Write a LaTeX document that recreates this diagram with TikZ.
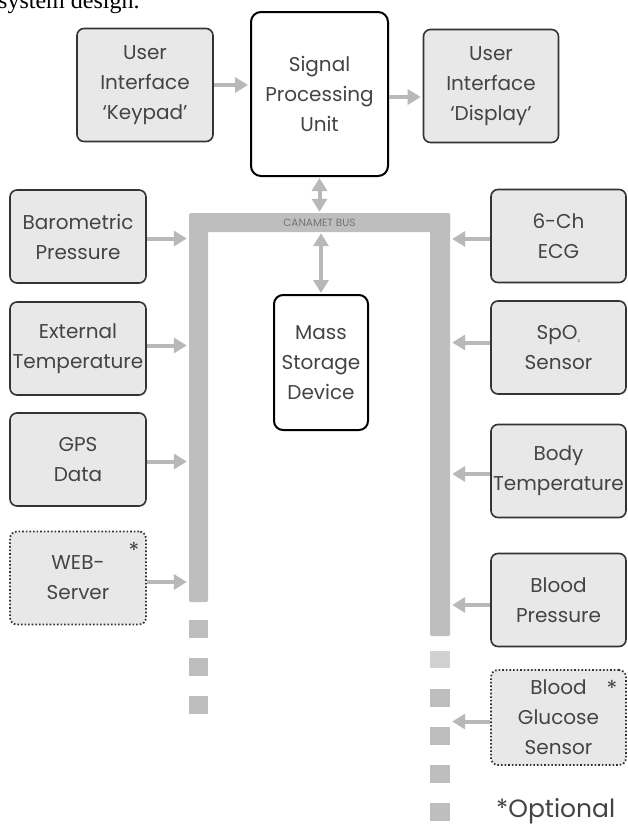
\documentclass[tikz,border=0pt]{standalone}
\usepackage{fontspec}
\setmainfont{Liberation Serif}
\setsansfont{Poppins}
\usetikzlibrary{arrows.meta}
\definecolor{boxfill}{HTML}{E8E8E8}
\definecolor{boxline}{HTML}{333333}
\definecolor{txt}{HTML}{444444}
\definecolor{busgray}{HTML}{BEBEBE}
\definecolor{arrgray}{HTML}{B8B8B8}
\begin{document}
\begin{tikzpicture}[x=1pt,y=-1pt,
  box/.style={draw=boxline, line width=1.6pt, fill=boxfill, rounded corners=7pt,
    font=\sffamily\fontsize{20}{30}\selectfont, text=txt, align=center,
    inner sep=0pt, minimum width=135pt, minimum height=93pt},
  optbox/.style={box, dotted, line width=1.8pt},
  whitebox/.style={box, fill=white, draw=black, line width=2pt, rounded corners=10pt},
  bus/.style={fill=busgray, draw=none, inner sep=0pt, rounded corners=1.5pt},
  sq/.style={fill=busgray, draw=none, inner sep=0pt, minimum width=19pt, minimum height=18pt},
  arr/.style={draw=arrgray, line width=4pt, -{Triangle[length=13pt,width=15pt]}, shorten >=2pt},
  darr/.style={draw=arrgray, line width=4pt, {Triangle[length=13pt,width=15pt]}-{Triangle[length=13pt,width=15pt]}, shorten >=1pt, shorten <=1pt}
]
\useasboundingbox (0,0) rectangle (628,833);
\fill[white] (0,0) rectangle (628,833);

% caption remnant (cut off at the top edge, as in the source)
\node[anchor=base west, inner sep=0pt, font=\rmfamily\fontsize{24}{26}\selectfont] (cap) at (-2,8) {system design.};

% top row
\node[box, minimum width=136pt, minimum height=113pt] (keypad) at (145,85) {User\\Interface\\`Keypad'};
\node[whitebox, minimum width=137pt, minimum height=164pt] (spu) at (319.5,94) {Signal\\Processing\\Unit};
\node[box, minimum width=135pt, minimum height=113pt] (display) at (491,86) {User\\Interface\\`Display'};

% bus
\node[bus, minimum width=19pt, minimum height=389pt] (busL) at (198.5,407.5) {};
\node[bus, minimum width=20pt, minimum height=423pt] (busR) at (440,424.5) {};
\node[bus, minimum width=261pt, minimum height=19pt, font=\sffamily\fontsize{10.5}{11}\selectfont, text=black!55] (busT) at (319.5,222.5) {CANAMET BUS};

% dashes of bus continuation
\node[sq] (l1) at (198.5,629) {};
\node[sq] (l2) at (198.5,667) {};
\node[sq] (l3) at (198.5,705) {};
\node[sq, fill=busgray!70, minimum width=20pt, minimum height=17pt] (r0) at (440,659.5) {};
\node[sq, minimum width=20pt] (r1) at (440,698) {};
\node[sq, minimum width=20pt] (r2) at (440,736) {};
\node[sq, minimum width=20pt] (r3) at (440,774) {};
\node[sq, minimum width=20pt] (r4) at (440,812) {};

% mass storage
\node[whitebox, minimum width=94pt, minimum height=135pt, rounded corners=9pt] (mass) at (321,362.5) {Mass\\Storage\\Device};

% left column
\node[box, minimum width=136pt] (baro) at (78,236.5) {Barometric\\Pressure};
\node[box, minimum width=136pt] (ext) at (78,348.5) {External\\Temperature};
\node[box, minimum width=136pt] (gps) at (78,459.5) {GPS\\Data};
\node[optbox, minimum width=136pt] (web) at (78,578) {WEB-\\Server};
\node[font=\sffamily\fontsize{22}{22}\selectfont, text=txt, inner sep=0pt] (webstar) at (134,550) {*};

% right column
\node[box] (ecg) at (558.5,236) {6-Ch\\ECG};
\node[box] (spo) at (558.5,347.5) {SpO\textsubscript{\fontsize{4}{4}\selectfont 2}\\Sensor};
\node[box] (body) at (558.5,471) {Body\\Temperature};
\node[box] (bp) at (558.5,600) {Blood\\Pressure};
\node[optbox, minimum height=95pt] (glu) at (558.5,717.5) {Blood\\Glucose\\Sensor};
\node[font=\sffamily\fontsize{22}{22}\selectfont, text=txt, inner sep=0pt] (glustar) at (612,688) {*};

\node[anchor=west, font=\sffamily\fontsize{25}{26}\selectfont, text=txt, inner sep=0pt] (opt) at (496,811) {*Optional};

% connectors
\draw[arr] (keypad.east) -- (keypad.east -| spu.west);
\draw[arr] ([yshift=-3pt]spu.east) -- ([yshift=-3pt]spu.east -| display.west);
\draw[darr] (spu.south) -- (spu.south |- busT.north);
\draw[darr] (mass.north |- busT.south) -- (mass.north);

\draw[arr] ([yshift=-2pt]baro.east) -- ([yshift=-2pt]baro.east -| busL.west);
\draw[arr] ([yshift=3pt]ext.east) -- ([yshift=3pt]ext.east -| busL.west);
\draw[arr] ([yshift=-2pt]gps.east) -- ([yshift=-2pt]gps.east -| busL.west);
\draw[arr] ([yshift=-4pt]web.east) -- ([yshift=-4pt]web.east -| busL.west);

\draw[arr] ([yshift=-3pt]ecg.west) -- ([yshift=-3pt]ecg.west -| busR.east);
\draw[arr] ([yshift=5pt]spo.west) -- ([yshift=5pt]spo.west -| busR.east);
\draw[arr] ([yshift=-3pt]body.west) -- ([yshift=-3pt]body.west -| busR.east);
\draw[arr] ([yshift=-5pt]bp.west) -- ([yshift=-5pt]bp.west -| busR.east);
\draw[arr] ([yshift=-4pt]glu.west) -- ([yshift=-4pt]glu.west -| busR.east);
\end{tikzpicture}
\end{document}
